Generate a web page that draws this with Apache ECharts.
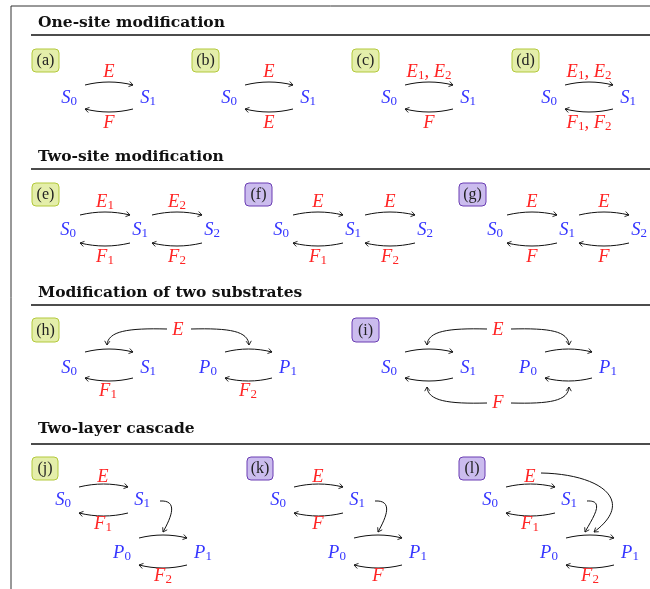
<!DOCTYPE html>
<html><head><meta charset="utf-8">
<script src="https://cdn.jsdelivr.net/npm/echarts@6/dist/echarts.min.js"></script>
<style>html,body{margin:0;padding:0;background:#fff}#c{width:650px;height:589px}</style>
</head><body><div id="c"></div><script>
// ---------- data ----------
const sectionTitles = ['One-site modification', 'Two-site modification', 'Modification of two substrates', 'Two-layer cascade'];
const panelLabels = ['(a)','(b)','(c)','(d)','(e)','(f)','(g)','(h)','(i)','(j)','(k)','(l)'];
const panelKinds  = ['green','green','green','green','green','purple','purple','green','purple','green','purple','purple'];
const speciesS = ['S_0','S_1','S_2'];
const speciesP = ['P_0','P_1'];
// one-site modification (a)-(d)
const oneSiteForward  = ['E','E','E_1, E_2','E_1, E_2'];
const oneSiteBackward = ['F','E','F','F_1, F_2'];
// two-site modification (e)-(g)
const twoSiteForward1  = ['E_1','E','E'];
const twoSiteForward2  = ['E_2','E','E'];
const twoSiteBackward1 = ['F_1','F_1','F'];
const twoSiteBackward2 = ['F_2','F_2','F'];
// modification of two substrates (h)-(i)
const twoSubKinase       = ['E','E'];
const twoSubBackwardS    = ['F_1', null];
const twoSubBackwardP    = ['F_2', null];
const twoSubSharedPhosph = [null, 'F'];
// two-layer cascade (j)-(l)
const cascadeForward   = ['E','E','E'];
const cascadeBackward1 = ['F_1','F','F_1'];
const cascadeBackward2 = ['F_2','F','F_2'];
const cascadeSecondKinase = [null, null, 'E'];

// ---------- styles ----------
const BLUE = '#3535ff', RED = '#ff2424', INK = '#111';
const kindStyle = {
  green:  {fill:'#e4eeaa', stroke:'#b3c93c'},
  purple: {fill:'#cbbcee', stroke:'#6a3db3'}
};
function richText(str){
  return str.replace(/_(\w)/g, '\u0001$1\u0002').split(/(\u0001\w\u0002)/).filter(s=>s.length)
    .map(s => s[0]==='\u0001' ? '{s|'+s.slice(1,-1)+'}' : '{m|'+s+'}').join('');
}
function mathRich(color){
  return {
    m:{fontFamily:'Liberation Serif', fontStyle:'italic', fontSize:18.5, lineHeight:20, fill:color, color:color, verticalAlign:'middle'},
    s:{fontFamily:'Liberation Serif', fontStyle:'normal', fontSize:13, lineHeight:11, fill:color, color:color, verticalAlign:'bottom'}
  };
}

function renderItem(params, api){
  const idx = params.dataIndex;
  const P = (x,y) => api.coord([x,y]);
  const els = [];
  const mathText = (str, x, y, color) => {
    const p = P(x,y);
    els.push({type:'text', style:{text:richText(str), x:p[0], y:p[1], align:'center', verticalAlign:'middle', rich:mathRich(color)}});
  };
  const arrowHead = (ex,ey,dx,dy) => {
    const L = Math.hypot(dx,dy), ux = dx/L, uy = dy/L;
    const bx = ex-ux*4, by = ey-uy*4, px = -uy*2.6, py = ux*2.6;
    els.push({type:'polyline', shape:{points:[P(bx+px,by+py), P(ex,ey), P(bx-px,by-py)]}, style:{stroke:INK, fill:null, lineWidth:0.9}});
  };
  const curve = (x1,y1,c1x,c1y,c2x,c2y,x2,y2) => {
    const a=P(x1,y1), b=P(c1x,c1y), c=P(c2x,c2y), d=P(x2,y2);
    els.push({type:'bezierCurve', shape:{x1:a[0],y1:a[1],cpx1:b[0],cpy1:b[1],cpx2:c[0],cpy2:c[1],x2:d[0],y2:d[1]}, style:{stroke:INK, fill:null, lineWidth:1}});
    arrowHead(x2,y2,x2-c2x,y2-c2y);
  };
  const arc = (x1,x2,y,bulge) => {
    const t = (x2-x1)/3;
    curve(x1,y,x1+t,y+bulge,x1+2*t,y+bulge,x2,y);
  };
  const box = (label, kind, x, y, w, h) => {
    const a = P(x,y), b = P(x+w,y+h);
    els.push({type:'rect', shape:{x:a[0], y:a[1], width:b[0]-a[0], height:b[1]-a[1], r:4}, style:{fill:kindStyle[kind].fill, stroke:kindStyle[kind].stroke, lineWidth:1}});
    const c = P(x+w/2, y+h/2);
    els.push({type:'text', style:{text:label, x:c[0], y:c[1]+0.5, align:'center', verticalAlign:'middle', fontFamily:'Liberation Serif', fontSize:16, fill:'#222'}});
  };

  if (idx === 12) {
    // frame, section titles and rules
    const a = P(11,6), b = P(650,6), c = P(11,589);
    els.push({type:'polyline', shape:{points:[c,a,b]}, style:{stroke:'#333', fill:null, lineWidth:1}});
    const titleY = [22.5, 157, 293, 428.5], ruleY = [35, 169, 305, 444];
    sectionTitles.forEach((t,i)=>{
      const p = P(38, titleY[i]);
      els.push({type:'text', style:{text:t, x:p[0], y:p[1], align:'left', verticalAlign:'middle', fontFamily:'DejaVu Serif', fontWeight:'bold', fontSize:15.5, fill:INK}});
      const l1 = P(31, ruleY[i]), l2 = P(650, ruleY[i]);
      els.push({type:'line', shape:{x1:l1[0],y1:l1[1],x2:l2[0],y2:l2[1]}, style:{stroke:INK, lineWidth:1.6}});
    });
    return {type:'group', children:els};
  }

  if (idx < 4) {
    const dx = [0,160,320,480][idx];
    box(panelLabels[idx], panelKinds[idx], 32+dx, 49, 27, 23);
    mathText(speciesS[0], 69+dx, 98, BLUE);
    mathText(speciesS[1], 148+dx, 98, BLUE);
    arc(85+dx, 133+dx, 85, -4);
    arc(133+dx, 85+dx, 109, 4);
    mathText(oneSiteForward[idx], 109+dx, 72, RED);
    mathText(oneSiteBackward[idx], 109+dx, 123, RED);
  } else if (idx < 7) {
    const k = idx-4, dx = [0,213,427][k];
    box(panelLabels[idx], panelKinds[idx], 32+dx, 183, 27, 23);
    mathText(speciesS[0], 68+dx, 230, BLUE);
    mathText(speciesS[1], 140+dx, 230, BLUE);
    mathText(speciesS[2], 212+dx, 230, BLUE);
    arc(80+dx, 130+dx, 215, -4); arc(152+dx, 202+dx, 215, -4);
    arc(130+dx, 80+dx, 243, 4);  arc(202+dx, 152+dx, 243, 4);
    mathText(twoSiteForward1[k], 105+dx, 202, RED);
    mathText(twoSiteForward2[k], 177+dx, 202, RED);
    mathText(twoSiteBackward1[k], 105+dx, 257, RED);
    mathText(twoSiteBackward2[k], 177+dx, 257, RED);
  } else if (idx < 9) {
    const k = idx-7, dx = [0,320][k];
    box(panelLabels[idx], panelKinds[idx], 32+dx, 318, 27, 24);
    mathText(speciesS[0], 69+dx, 368, BLUE);
    mathText(speciesS[1], 148+dx, 368, BLUE);
    mathText(speciesP[0], 208+dx, 368, BLUE);
    mathText(speciesP[1], 288+dx, 368, BLUE);
    arc(85+dx, 133+dx, 352, -4); arc(225+dx, 272+dx, 352, -4);
    arc(133+dx, 85+dx, 378, 4);  arc(272+dx, 225+dx, 378, 4);
    mathText(twoSubKinase[k], 178+dx, 330, RED);
    curve(167+dx,329, 128+dx,328, 108+dx,331, 107+dx,345);
    curve(191+dx,329, 230+dx,328, 248+dx,331, 249+dx,345);
    if (twoSubBackwardS[k]) mathText(twoSubBackwardS[k], 108+dx, 391, RED);
    if (twoSubBackwardP[k]) mathText(twoSubBackwardP[k], 248+dx, 391, RED);
    if (twoSubSharedPhosph[k]) {
      mathText(twoSubSharedPhosph[k], 178+dx, 403, RED);
      curve(167+dx,403, 128+dx,404, 108+dx,401, 107+dx,387);
      curve(191+dx,403, 230+dx,404, 248+dx,401, 249+dx,387);
    }
  } else if (idx < 12) {
    const k = idx-9, dx = [0,215,427][k];
    box(panelLabels[idx], panelKinds[idx], 32+dx, 457, 26, 23);
    mathText(speciesS[0], 63+dx, 500, BLUE);
    mathText(speciesS[1], 142+dx, 500, BLUE);
    mathText(speciesP[0], 122+dx, 553, BLUE);
    mathText(speciesP[1], 203+dx, 553, BLUE);
    arc(79+dx, 128+dx, 487, -4); arc(128+dx, 79+dx, 513, 4);
    arc(139+dx, 187+dx, 538, -4); arc(187+dx, 139+dx, 565, 4);
    mathText(cascadeForward[k], 103+dx, 477, RED);
    mathText(cascadeBackward1[k], 103+dx, 524, RED);
    mathText(cascadeBackward2[k], 163+dx, 576, RED);
    const shift = cascadeSecondKinase[k] ? -5 : 0;
    curve(160+dx,501, 178+dx,500, 172+dx+shift,516, 163+dx+shift,532);
    if (cascadeSecondKinase[k]) {
      curve(114+dx,473, 172+dx,474, 210+dx,500, 167+dx,532);
    }
  }
  return {type:'group', children:els};
}

const chart = echarts.init(document.getElementById('c'));
chart.setOption({
  animation:false,
  grid:{left:0,right:0,top:0,bottom:0},
  xAxis:{type:'value', min:0, max:650, show:false},
  yAxis:{type:'value', min:0, max:589, inverse:true, show:false},
  series:[{type:'custom', renderItem, coordinateSystem:'cartesian2d',
    data: panelLabels.map((l,i)=>[i,0]).concat([[12,0]]), silent:true}]
});
</script></body></html>
